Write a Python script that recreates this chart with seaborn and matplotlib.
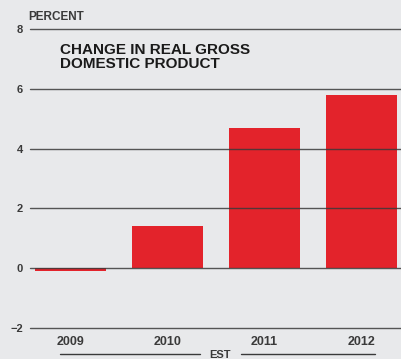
import matplotlib
matplotlib.use("Agg")
import matplotlib.pyplot as plt
import seaborn as sns
import pandas as pd

years = ["2009", "2010", "2011", "2012"]
gdp_change = [-0.1, 1.4, 4.7, 5.8]
y_ticks = [-2, 0, 2, 4, 6, 8]

sns.set_theme(style="white")
plt.rcParams["font.family"] = ["Liberation Sans", "DejaVu Sans"]

bg = "#e8e9eb"
red = "#e3232b"
dark = "#3a3a3a"

df = pd.DataFrame({"year": years, "value": gdp_change})

fig = plt.figure(figsize=(4.01, 3.59), dpi=100, facecolor=bg)
ax = fig.add_axes([30/401, 31/359, 371/401, 299/359])
ax.set_facecolor(bg)

sns.barplot(data=df, x="year", y="value", color=red, width=0.73,
            saturation=1, linewidth=0, ax=ax, zorder=2)

for t in y_ticks:
    ax.axhline(t, color=dark, lw=1.0, alpha=0.85, zorder=3, clip_on=False)

ax.set_ylim(-2, 8)
ax.set_xlim(-0.42, 3.41)
ax.set_yticks(y_ticks)
ax.set_yticklabels([str(t).replace("-", "\u2212") for t in y_ticks],
                   fontsize=8, fontweight="bold", color=dark)
ax.tick_params(axis="y", length=0, pad=5)
ax.tick_params(axis="x", length=0, pad=6, labelsize=9, labelcolor=dark)
for lab in ax.get_xticklabels():
    lab.set_fontweight("bold")
ax.set_xlabel("")
ax.set_ylabel("")
for s in ax.spines.values():
    s.set_visible(False)

fig.text(28/401, 1 - 17/359, "PERCENT", fontsize=8.5, fontweight="bold",
         color=dark, va="center", ha="left")
fig.text(60/401, 1 - 57/359, "CHANGE IN REAL GROSS\nDOMESTIC PRODUCT",
         fontsize=11, fontweight="bold", color="#1a1a1a",
         va="center", ha="left", linespacing=1.0)

# EST bracket under 2010-2012
fig.text(220/401, 1 - 355/359, "EST", fontsize=8, fontweight="bold",
         color=dark, va="center", ha="center")
fig.add_artist(plt.Line2D([60/401, 200/401], [1 - 354/359] * 2,
                          color=dark, lw=1))
fig.add_artist(plt.Line2D([241/401, 375/401], [1 - 354/359] * 2,
                          color=dark, lw=1))

fig.savefig("out.png", dpi=100, facecolor=bg)
